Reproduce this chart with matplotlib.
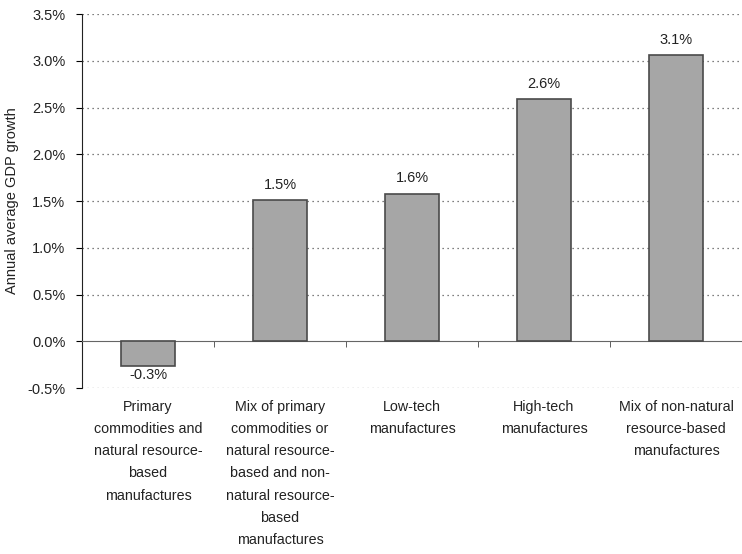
import matplotlib
matplotlib.use("Agg")
import matplotlib.pyplot as plt
from matplotlib.ticker import FuncFormatter, FixedLocator

plt.rcParams['font.family'] = ['Liberation Sans', 'DejaVu Sans']

categories = [
    "Primary\ncommodities and\nnatural resource-\nbased\nmanufactures",
    "Mix of primary\ncommodities or\nnatural resource-\nbased and non-\nnatural resource-\nbased\nmanufactures",
    "Low-tech\nmanufactures",
    "High-tech\nmanufactures",
    "Mix of non-natural\nresource-based\nmanufactures",
]
growth = [-0.26, 1.51, 1.58, 2.59, 3.06]
y_ticks = [-0.5, 0.0, 0.5, 1.0, 1.5, 2.0, 2.5, 3.0, 3.5]

fig = plt.figure(figsize=(7.42, 5.54), dpi=100)
ax = fig.add_axes([0.1105, 0.2996, 0.8895, 0.675])

x = list(range(len(categories)))
bars = ax.bar(x, growth, width=0.41, color="#a6a6a6", edgecolor="#4a4a4a",
              linewidth=1.2, zorder=3)

for b, v in zip(bars, growth):
    cx = b.get_x() + b.get_width() / 2
    if v >= 0:
        ax.annotate(f"{v:.1f}%", (cx, v), xytext=(0, 6), textcoords="offset points",
                    ha="center", va="bottom", fontsize=10.5, color="#222222")
    else:
        ax.annotate(f"{v:.1f}%", (cx, v), xytext=(0, -2), textcoords="offset points",
                    ha="center", va="top", fontsize=10.5, color="#222222")

ax.set_xlim(-0.5, len(categories) - 0.5)
ax.set_ylim(-0.5, 3.5)
ax.yaxis.set_major_locator(FixedLocator(y_ticks))
ax.yaxis.set_major_formatter(FuncFormatter(lambda v, p: f"{v:.1f}%"))

# dotted gridlines at every tick except zero
for t in y_ticks:
    if t != 0:
        ax.axhline(t, color="#555555", linestyle=(0, (1, 3)), linewidth=0.9, zorder=1)

for s in ["top", "right"]:
    ax.spines[s].set_visible(False)
ax.spines["bottom"].set_position(("data", 0))
ax.spines["bottom"].set_color("#666666")
ax.spines["left"].set_color("#222222")

ax.set_xticks(x)
ax.set_xticklabels(categories, fontsize=10.3, color="#222222", linespacing=1.75,
                   va="top")
ax.tick_params(axis="x", which="major", length=0, pad=42)
ax.set_xticks([i + 0.5 for i in x[:-1]], minor=True)
ax.tick_params(axis="x", which="minor", length=4, direction="out", color="#444444")

ax.tick_params(axis="y", length=4, direction="out", labelsize=10.5,
               labelcolor="#222222", pad=8)
ax.set_ylabel("Annual average GDP growth", fontsize=10.5, color="#222222", labelpad=6)

fig.savefig("out.png", dpi=100)
